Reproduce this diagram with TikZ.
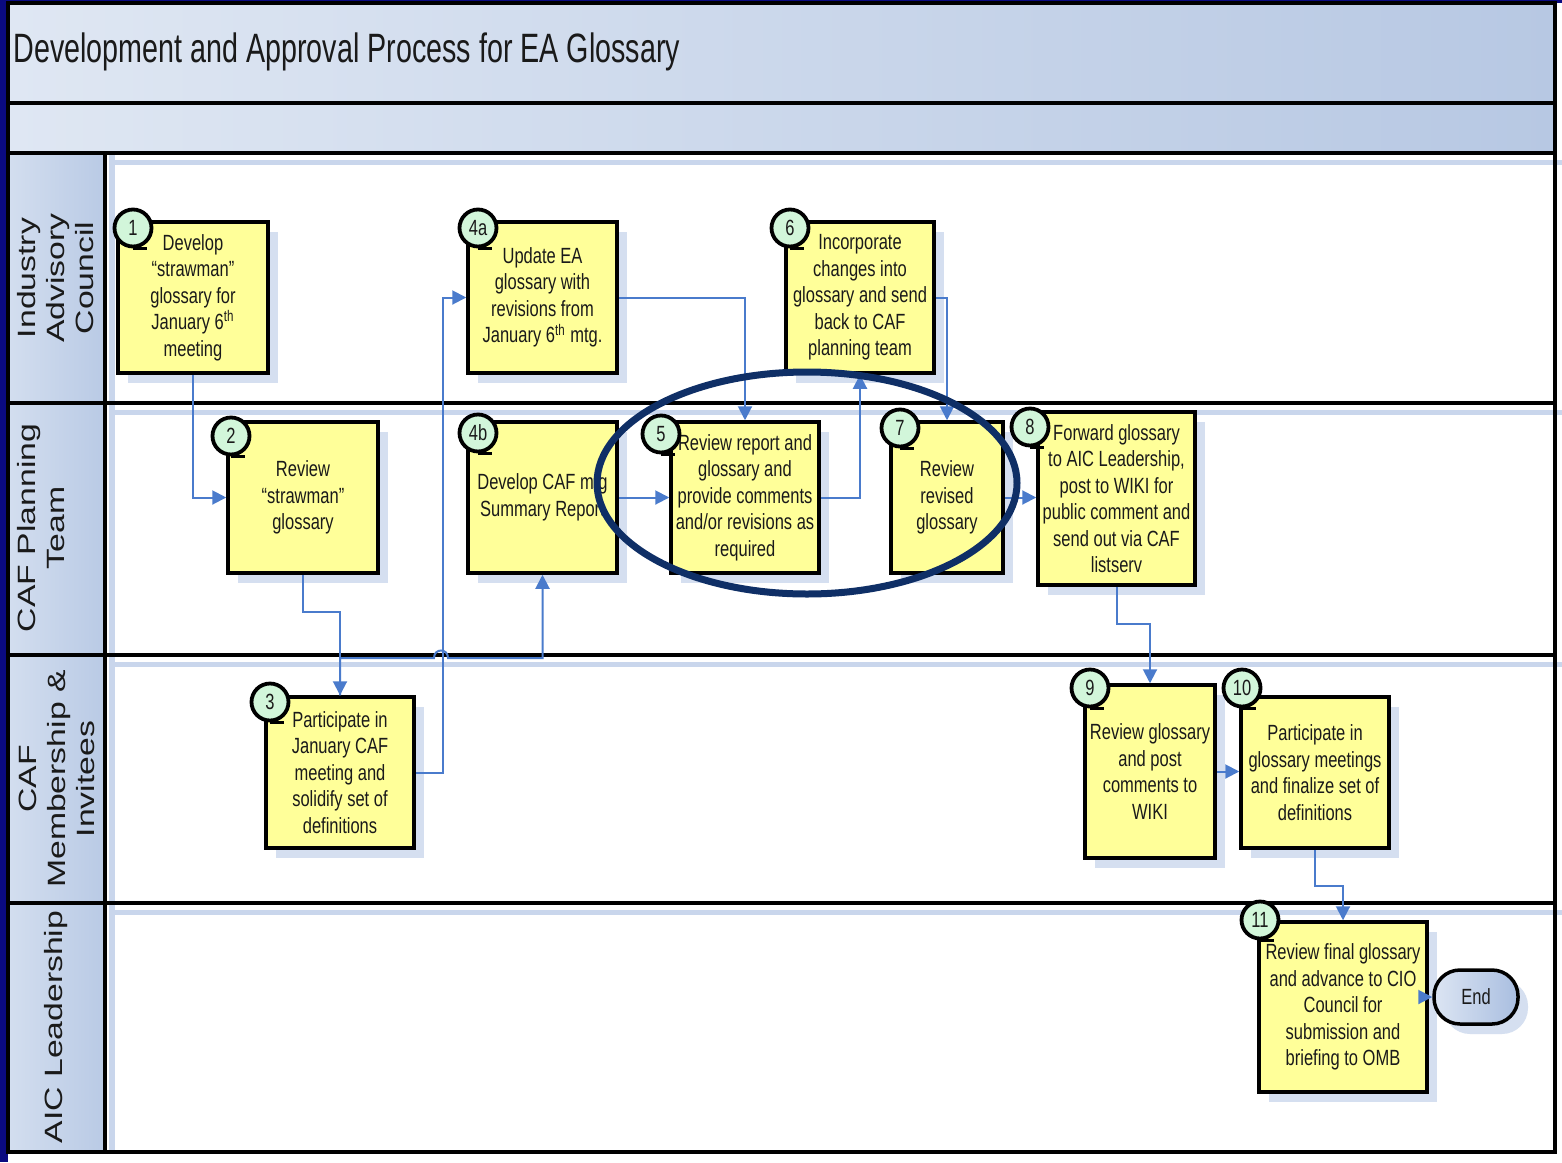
\documentclass[tikz,border=0pt]{standalone}
\usepackage{fontspec}
\setmainfont{Liberation Sans}
\newfontfamily\nf{Liberation Sans}[FakeStretch=0.75]
\newfontfamily\tf{Liberation Sans}[FakeStretch=0.7]
\newfontfamily\wf{Liberation Sans}[FakeStretch=1.35]
\usetikzlibrary{arrows.meta,calc,shadows}
\definecolor{bgnavy}{HTML}{0A0A80}
\definecolor{titleA}{HTML}{DFE7F3}
\definecolor{titleB}{HTML}{B7C8E3}
\definecolor{colA}{HTML}{D3DEEF}
\definecolor{colB}{HTML}{B9CAE5}
\definecolor{lanelb}{HTML}{C9D6EC}
\definecolor{boxyellow}{HTML}{FFFF99}
\definecolor{shadowblue}{HTML}{D5DFF0}
\definecolor{badgegreen}{HTML}{D2F6DA}
\definecolor{flowblue}{HTML}{4A7BCC}
\definecolor{ellnavy}{HTML}{0F2F66}
\definecolor{textdark}{HTML}{1A1A1A}
\definecolor{endA}{HTML}{DCE5F3}
\definecolor{endB}{HTML}{A9BEE0}
\tikzset{
  stepbox/.style={draw=black, line width=1.75pt, fill=boxyellow, align=center,
    inner sep=0pt, text=textdark, font=\nf\fontsize{11}{13.25}\selectfont,
    general shadow={fill=shadowblue, shadow xshift=5pt, shadow yshift=-5pt}},
  badge/.style={circle, draw=black, line width=1.9pt, fill=badgegreen, inner sep=0pt,
    minimum size=18.5pt, text=textdark, font=\nf\fontsize{11}{12}\selectfont},
  tail/.style={draw=black, line width=1.6pt},
  flow/.style={draw=flowblue, line width=1pt, -{Triangle[length=7pt,width=7pt]}},
  lanelabel/.style={rotate=90, align=center, text=textdark, font=\wf\fontsize{12.5}{14.5}\selectfont},
  frame/.style={draw=black, line width=2pt},
}
\begin{document}
\begin{tikzpicture}[x=0.5pt,y=-0.5pt]
\useasboundingbox (0,0) rectangle (1562,1162);
% background
\fill[white] (0,0) rectangle (1562,1162);
\fill[bgnavy] (0,0) rectangle (8,1162);
\fill[bgnavy] (0,0) rectangle (1562,3);
% bands
\shade[left color=titleA, right color=titleB] (8,3) rectangle (1555,103);
\shade[left color=titleA, right color=titleB] (8,103) rectangle (1555,153);
\shade[left color=colA, right color=colB] (8,153) rectangle (105,1152);
% light lane shadow lines
\foreach \yy in {162,412,664,912} \draw[lanelb, line width=2.5pt] (112,\yy) -- (1562,\yy);
\draw[lanelb, line width=3pt] (112,153) -- (112,1152);
% frame
\draw[frame] (8,3) rectangle (1555,1152);
\foreach \yy in {103,153,403,655,903} \draw[frame] (8,\yy) -- (1555,\yy);
\draw[frame] (105,153) -- (105,1152);
% title
\node[anchor=west, inner sep=0pt, text=textdark, font=\tf\fontsize{20.5}{24}\selectfont] (title) at (13,52) {Development and Approval Process for EA Glossary};
% lane labels
\node[lanelabel] (laneA) at (56,278) {Industry\\Advisory\\Council};
\node[lanelabel] (laneB) at (41,528) {CAF Planning\\Team};
\node[lanelabel] (laneC) at (57,779) {CAF\\Membership \&\\Invitees};
\node[lanelabel] (laneD) at (56,1027) {AIC Leadership};
% boxes
\node[stepbox, minimum width=75pt, minimum height=75.5pt] (n1) at (193,297.5) {Develop\\“strawman”\\glossary for\\January 6\textsuperscript{th}\\meeting};
\node[stepbox, minimum width=74.5pt, minimum height=75.5pt] (n4a) at (542.5,297.5) {Update EA\\glossary with\\revisions from\\January 6\textsuperscript{th} mtg.};
\node[stepbox, minimum width=74pt, minimum height=75.5pt] (n6) at (860,297.5) {Incorporate\\changes into\\glossary and send\\back to CAF\\planning team};
\node[stepbox, minimum width=75pt, minimum height=75.5pt] (n2) at (303,497.5) {Review\\“strawman”\\glossary};
\node[stepbox, minimum width=74.5pt, minimum height=75.5pt] (n4b) at (542.5,497.5) {Develop CAF mtg\\Summary Report};
\node[stepbox, minimum width=74pt, minimum height=75.5pt] (n5) at (745,497.5) {Review report and\\glossary and\\provide comments\\and/or revisions as\\required};
\node[stepbox, minimum width=56pt, minimum height=75.5pt] (n7) at (947,497.5) {Review\\revised\\glossary};
\node[stepbox, minimum width=78.5pt, minimum height=86.5pt] (n8) at (1116.5,498.5) {Forward glossary\\to AIC Leadership,\\post to WIKI for\\public comment and\\send out via CAF\\listserv};
\node[stepbox, minimum width=74pt, minimum height=75.5pt] (n3) at (340,772.5) {Participate in\\January CAF\\meeting and\\solidify set of\\definitions};
\node[stepbox, minimum width=65pt, minimum height=86.5pt] (n9) at (1150,771.5) {Review glossary\\and post\\comments to\\WIKI};
\node[stepbox, minimum width=74pt, minimum height=75.5pt] (n10) at (1315,772.5) {Participate in\\glossary meetings\\and finalize set of\\definitions};
\node[stepbox, minimum width=84pt, minimum height=85pt] (n11) at (1343,1007) {Review final glossary\\and advance to CIO\\Council for\\submission and\\briefing to OMB};
\node[draw=black, line width=1.75pt, rounded corners=13pt, left color=endA, right color=endB,
  minimum width=42pt, minimum height=27pt, inner sep=0pt, text=textdark,
  font=\nf\fontsize{11}{13}\selectfont,
  general shadow={fill=shadowblue, shadow xshift=5pt, shadow yshift=-5pt}] (nend) at (1476,997) {End};
% badges
\foreach \nm/\cx/\cy/\lab in {b1/133/228/1, b4a/478/228/4a, b6/790/228/6, b2/231/436/2, b4b/478/433/4b, b5/661/434/5, b7/900/428/7, b8/1030/427/8, b3/270/702/3, b9/1090/688/9, b10/1242/688/10, b11/1260/920/11}{
  \node[badge] (\nm) at (\cx,\cy) {\lab};
  \draw[tail] (\nm.south) -- ++(14,0);
}
% connectors
\draw[flow] (n1.south) |- (n2.west);
\draw[flow] (n2.south) -- ++(0,37) -| (n3.north);
\draw[flow] (n3.east) -- ++(27,0) |- (n4a.west);
\draw[flow] (n3.north) -- (340,658) -- (434,658) .. controls (434,648) and (448,648) .. (448,658) -| (n4b.south);
\draw[flow] (n4a.east) -| (n5.north);
\draw[flow] (n4b.east) -- (n5.west);
\draw[flow] (n5.east) -| (n6.south);
\draw[flow] (n6.east) -| (n7.north);
\draw[flow] (n7.east) -- (n7.east -| n8.west);
\draw[flow] (n8.south) -- ++(0,37) -| (n9.north);
\draw[flow] (n9.east) -- (n9.east -| n10.west);
\draw[flow] (n10.south) -- ++(0,36) -| (n11.north);
\draw[flow] (n11.east |- nend.west) -- (nend.west);
% highlight ellipse
\draw[ellnavy, line width=3.5pt] (807,483) ellipse [x radius=210, y radius=111];
\end{tikzpicture}
\end{document}
